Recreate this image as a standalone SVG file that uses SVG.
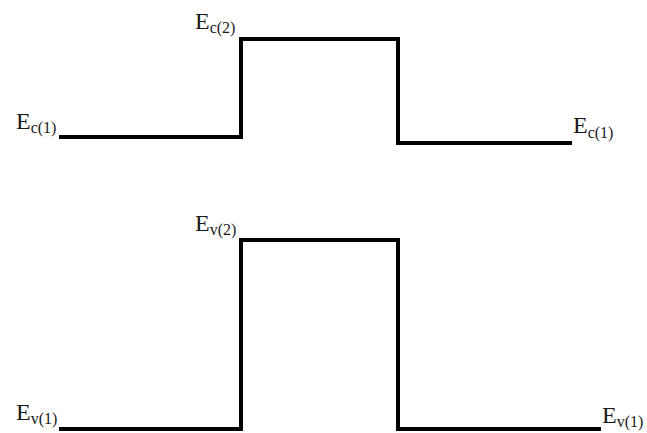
<svg xmlns="http://www.w3.org/2000/svg" width="647" height="433" viewBox="0 0 647 433">
<style>
.lvl{fill:none;stroke:#000;stroke-width:4;stroke-linejoin:miter;stroke-linecap:butt}
.lbl{font-family:"Liberation Serif","Times New Roman",serif;font-size:24px;fill:#1a1a1a}
.sub{font-size:16px}
</style>
<rect width="647" height="433" fill="#fff"/>
<g id="connectors">
<path id="conduction" class="lvl" d="M59,137 L241,137 L241,39 L398,39 L398,143 L572,143"/>
<path id="valence" class="lvl" d="M59,429 L241,429 L241,240 L398,240 L398,429 L601,429"/>
</g>
<g id="Ec1-left"><text class="lbl" x="16" y="129">E<tspan class="sub" dy="4">c(1)</tspan></text></g>
<g id="Ec2"><text class="lbl" x="195" y="29">E<tspan class="sub" dy="4">c(2)</tspan></text></g>
<g id="Ec1-right"><text class="lbl" x="573" y="133">E<tspan class="sub" dy="5">c(1)</tspan></text></g>
<g id="Ev2"><text class="lbl" x="195" y="231">E<tspan class="sub" dy="4">v(2)</tspan></text></g>
<g id="Ev1-left"><text class="lbl" x="16" y="420">E<tspan class="sub" dy="4">v(1)</tspan></text></g>
<g id="Ev1-right"><text class="lbl" x="602" y="423">E<tspan class="sub" dy="4">v(1)</tspan></text></g>
</svg>
